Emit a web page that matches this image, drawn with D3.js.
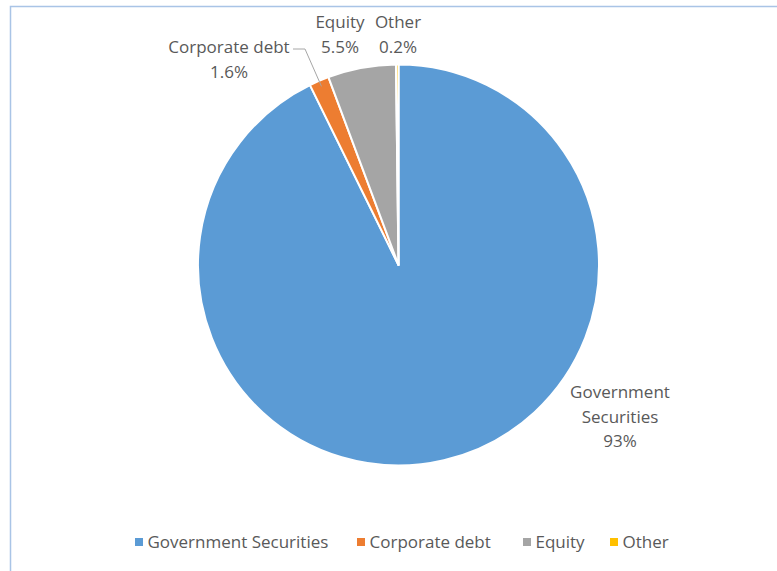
<!DOCTYPE html>
<html>
<head>
<meta charset="utf-8">
<script src="https://cdn.jsdelivr.net/npm/d3@7"></script>
<style>
  html, body { margin: 0; padding: 0; background: #ffffff; }
  svg { display: block; }
  text { font-family: "Open Sans", "Noto Sans", sans-serif; fill: #595959; }
</style>
</head>
<body>
<svg id="chart" width="777" height="571"></svg>
<script>
// Portfolio composition
const categories = ["Government Securities", "Corporate debt", "Equity", "Other"];
const shares = [93, 1.6, 5.5, 0.2];
const shareLabels = ["93%", "1.6%", "5.5%", "0.2%"];
const colors = ["#5b9bd5", "#ed7d31", "#a5a5a5", "#ffc000"];

const svg = d3.select("#chart");
const W = 777, H = 571;
const FS = 17;

// chart area frame
svg.append("rect")
  .attr("x", 10.5).attr("y", 6.5)
  .attr("width", W + 20).attr("height", H + 20)
  .attr("fill", "#ffffff")
  .attr("stroke", "#a9c4e6").attr("stroke-width", 1.5);

const cx = 398.5, cy = 265, R = 200.5;

const data = categories.map((c, i) => ({ name: c, value: shares[i], label: shareLabels[i], color: colors[i] }));

const pie = d3.pie().value(d => d.value).sort(null);
const arc = d3.arc().innerRadius(0).outerRadius(R);
const arcs = pie(data);

const g = svg.append("g").attr("transform", `translate(${cx},${cy})`);
g.selectAll("path.slice")
  .data(arcs)
  .join("path")
  .attr("class", "slice")
  .attr("d", arc)
  .attr("fill", d => d.data.color)
  .attr("stroke", "#ffffff")
  .attr("stroke-width", 2)
  .attr("stroke-linejoin", "round");

// data labels: name lines and anchor position
const labelPos = {
  "Government Securities": { x: 620, y: 398, lines: ["Government", "Securities"] },
  "Corporate debt": { x: 229, y: 53, lines: ["Corporate debt"] },
  "Equity": { x: 340, y: 28, lines: ["Equity"] },
  "Other": { x: 398, y: 28, lines: ["Other"] }
};
const lh = 24.5;
arcs.forEach(a => {
  const p = labelPos[a.data.name];
  const t = svg.append("text")
    .attr("text-anchor", "middle")
    .attr("font-size", FS);
  const lines = p.lines.concat([a.data.label]);
  lines.forEach((ln, i) => {
    t.append("tspan").attr("x", p.x).attr("y", p.y + i * lh).text(ln);
  });
});

// leader line for the corporate debt slice
const cd = arcs[1];
const mid = (cd.startAngle + cd.endAngle) / 2;
const anchor = [cx + Math.sin(mid) * (R - 6), cy - Math.cos(mid) * (R - 6)];
svg.append("polyline")
  .attr("points", `${293},${49} ${305},${49} ${anchor[0]},${anchor[1]}`)
  .attr("fill", "none")
  .attr("stroke", "#a6a6a6")
  .attr("stroke-width", 1);

// legend
const legendX = [135, 357, 523, 610];
const legend = svg.append("g");
data.forEach((d, i) => {
  legend.append("rect")
    .attr("x", legendX[i]).attr("y", 538)
    .attr("width", 8).attr("height", 8)
    .attr("fill", d.color);
  legend.append("text")
    .attr("x", legendX[i] + 12.5).attr("y", 548)
    .attr("font-size", FS)
    .text(d.name);
});
</script>
</body>
</html>
